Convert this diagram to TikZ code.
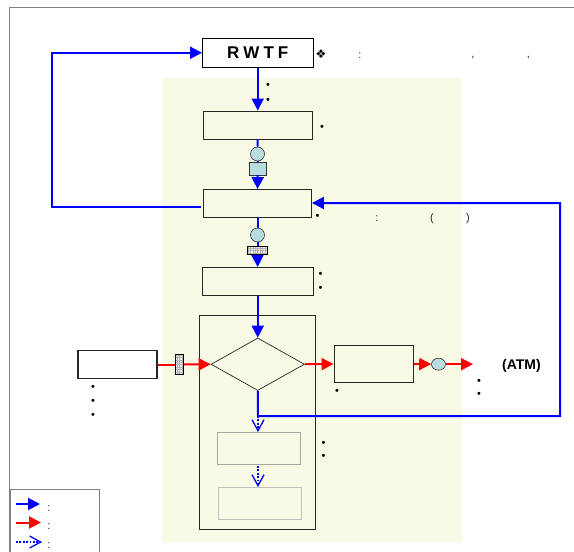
\documentclass[tikz,border=0pt]{standalone}
\usepackage{fontspec}
\setmainfont{Liberation Sans}
\newfontfamily\symfont{DejaVu Sans}
\usetikzlibrary{arrows.meta,shapes.geometric}
\definecolor{paleyellow}{RGB}{249,250,230}
\definecolor{paleblue}{RGB}{184,220,224}
\tikzset{
  >={Triangle[length=12pt,width=12pt]},
  blockbox/.style={draw=black!85,line width=.9pt,inner sep=0pt,fill=paleyellow},
  subbox/.style={draw=black!35,line width=.9pt,inner sep=0pt,fill=paleyellow},
  gridbox/.style={draw=black,line width=.7pt,inner sep=0pt,fill=black!5,
    path picture={\draw[black!30,line width=.2pt] (path picture bounding box.south west) grid[step=2.4pt] (path picture bounding box.north east);}},
  tapnode/.style={circle,draw=black!80,line width=.6pt,fill=paleblue,inner sep=0pt,minimum size=14pt},
  blueflow/.style={->,draw=blue,line width=2pt,color=blue},
  redflow/.style={->,draw=red,line width=2pt,color=red},
  dotflow/.style={-{Straight Barb[length=11pt,width=12pt,line width=1.3pt]},draw=blue,line width=1.6pt,dash pattern=on 1.8pt off 1.6pt,color=blue},
  dotmark/.style={font=\fontsize{11}{11}\selectfont,inner sep=0pt,yshift=-1pt},
  punct/.style={font=\fontsize{11}{11}\selectfont,inner sep=0pt,text=black!85,yshift=-1.5pt},
}
\begin{document}
\begin{tikzpicture}[x=1pt,y=-1pt]
    \useasboundingbox (0,0) rectangle (574,552);
    \fill[white] (0,0) rectangle (574,552);
    \fill[paleyellow] (162,78) rectangle (462,541.5);
    \draw[black!50,line width=.8pt] (574,7.5) -- (9.5,7.5) -- (9.5,552);

    % main column
    \node[draw=black,line width=.9pt,fill=white,inner sep=0pt,minimum width=110.5pt,minimum height=29.5pt,font=\bfseries\fontsize{17}{17}\selectfont] (rwtf) at (257.75,52.75) {R\kern4pt W\kern4pt T\kern4pt F};
    \node[blockbox,minimum width=108.5pt,minimum height=28pt] (input) at (257.75,125) {};
    \node[tapnode] (tapa) at (257.5,154) {};
    \node[draw=black!80,line width=.6pt,fill=paleblue,inner sep=0pt,minimum width=16.5pt,minimum height=12.5pt] (bluea) at (257.75,168.75) {};
    \node[blockbox,minimum width=108pt,minimum height=28pt] (control) at (257.5,203.5) {};
    \node[tapnode] (tapb) at (257.5,235) {};
    \node[gridbox,minimum width=20pt,minimum height=8pt] (keypad) at (257.5,250.5) {};
    \node[blockbox,minimum width=111.5pt,minimum height=28pt] (store) at (257.75,281.5) {};
    \node[draw=black!85,line width=.8pt,inner sep=0pt,minimum width=116pt,minimum height=214.5pt] (group) at (257.5,422.25) {};
    \node[diamond,draw=black!85,line width=.7pt,inner sep=0pt,aspect=1.78,minimum width=93.5pt,minimum height=52.5pt] (check) at (257.75,364.25) {};
    \node[subbox,minimum width=83pt,minimum height=32pt] (boxa) at (259,448.5) {};
    \node[subbox,draw=black!25,line width=1pt,minimum width=83pt,minimum height=31.5pt] (boxb) at (259.5,503.25) {};

    % side parts
    \node[draw=black!85,line width=1.1pt,fill=white,inner sep=0pt,minimum width=79pt,minimum height=28pt] (source) at (117.5,364.5) {};
    \node[gridbox,minimum width=8.5pt,minimum height=20pt] (gate) at (179.25,364.5) {};
    \node[blockbox,minimum width=79.5pt,minimum height=37pt] (output) at (373.75,364) {};
    \node[ellipse,draw=black!80,line width=.6pt,fill=paleblue,inner sep=0pt,minimum width=14pt,minimum height=12pt] (tapc) at (438.5,364.2) {};
    \node[font=\bfseries\fontsize{14}{14}\selectfont,inner sep=0pt] (atm) at (521.5,366) {(ATM)};

    % turning points
    \coordinate (fork) at (258,416);
    \coordinate (forkr) at (560,416);
    \coordinate (forku) at (560,203);
    \coordinate (loopt) at (201,207);
    \coordinate (loopc) at (52,207);
    \coordinate (ende) at (473,364.2);
    \coordinate (dota) at (258,466);

    \draw[blueflow] (rwtf.south) -- (input.north);
    \draw[blueflow,-] (input.south) -- (tapa.north);
    \draw[blueflow,-] (tapa.south) -- (bluea.north);
    \draw[blueflow] (bluea.south) -- (control.north);
    \draw[blueflow,-] (control.south) -- (tapb.north);
    \draw[blueflow,-] (tapb.south) -- (keypad.north);
    \draw[blueflow] (keypad.south) -- (store.north);
    \draw[blueflow] (store.south) -- (check.north);
    \draw[blueflow] (loopt) -- (loopc) |- (rwtf.west);
    \draw[blueflow] (check.south) -- (fork) -- (forkr) -- (forku) -- (control.east |- forku);
    \draw[dotflow] (fork) -- (boxa.north -| fork);
    \draw[dotflow] (dota) -- (boxb.north -| dota);
    \draw[redflow,-] (source.east) -- (gate.west);
    \draw[redflow] (gate.east) -- (check.west);
    \draw[redflow] (check.east) -- (output.west);
    \draw[redflow] (output.east) -- (tapc.west);
    \draw[redflow] (tapc.east) -- (ende);

    % notes
    \node[font=\symfont\fontsize{12}{12}\selectfont,inner sep=0pt] (noteo) at (321,54) {❖};
    \node[punct] (notea) at (360,54) {:};
    \node[punct] (noteb) at (473,56) {,};
    \node[punct] (notec) at (528.5,56) {,};
    \node[punct] (noted) at (377,217) {:};
    \node[punct] (notee) at (432,217) {(};
    \node[punct] (notef) at (468,217) {)};
    \foreach \name/\px/\py in {pa/268/85,pb/268/100,pc/322/127,pd/317.5/216,pe/320.5/274,pf/320.5/288,
        pg/337/391,ph/479/381,pi/479/394,pj/323.5/443,pk/323.5/456,pl/93/387,pm/93/401,pn/93/415} {
        \node[dotmark] (\name) at (\px,\py) {•};
    }

    % legend
    \draw[black!50,line width=.8pt] (10,552) -- (10,489) -- (99,489) -- (99,552);
    \coordinate (keya) at (16,504);
    \coordinate (keyb) at (16,522.5);
    \coordinate (keyc) at (16,542);
    \node[punct] (cola) at (49,507) {:};
    \node[punct] (colb) at (49,525) {:};
    \node[punct] (colc) at (49,544) {:};
    \draw[blueflow] (keya) -- (40,504);
    \draw[redflow] (keyb) -- (41,522.5);
    \draw[dotflow] (keyc) -- (42,542);
  \end{tikzpicture}
\end{document}
